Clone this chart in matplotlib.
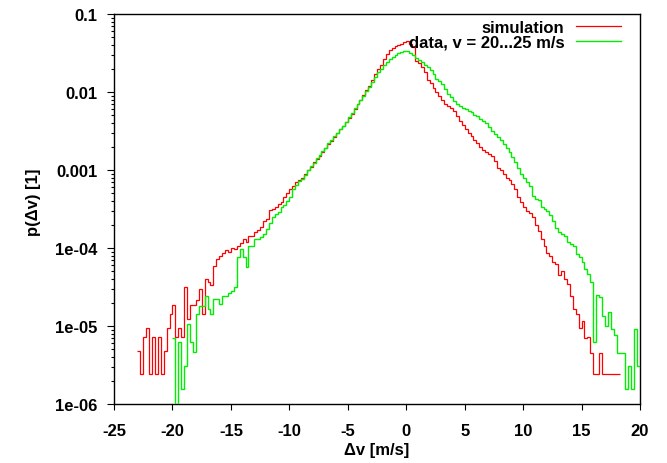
import numpy as np
import matplotlib
matplotlib.use("Agg")
import matplotlib.pyplot as plt
from matplotlib.ticker import FixedLocator, FixedFormatter, LogLocator, NullFormatter

plt.rcParams['font.family'] = ['Liberation Sans', 'DejaVu Sans']
plt.rcParams['font.weight'] = 'bold'

# ---- data: step histograms, log10 of p(dv) per 0.25 m/s bin ----
bin_width = 0.25
sim_start = -23.0
sim_log10p = [
    -5.32, -5.62, -5.14, -5.03, -5.62, -5.14, -5.62, -5.14, -5.62, -5.32,
    -5.03, -4.85, -4.73, -5.14, -5.03, -5.14, -4.50, -4.91, -4.73, -4.73,
    -4.67, -4.53, -4.85, -4.40, -4.44, -4.48, -4.23, -4.14, -4.10, -4.07,
    -4.03, -4.05, -4.00, -4.01, -3.97, -3.94, -3.88, -3.92, -3.85, -3.84,
    -3.80, -3.77, -3.73, -3.66, -3.63, -3.51, -3.50, -3.47, -3.43, -3.41,
    -3.34, -3.29, -3.25, -3.20, -3.16, -3.13,
    -3.10, -3.05, -3.00, -2.96, -2.90, -2.86, -2.82, -2.77, -2.72, -2.67,
    -2.63, -2.58, -2.53, -2.48, -2.43, -2.38, -2.33, -2.28, -2.22, -2.16,
    -2.10, -2.04, -1.98, -1.92, -1.84, -1.77, -1.71, -1.65, -1.58, -1.51,
    -1.46, -1.43, -1.41, -1.40, -1.38, -1.36, -1.34, -1.38, -1.42, -1.60,
    -1.63, -1.68, -1.74, -1.84, -1.89, -1.95, -2.00, -2.05,
    -2.10, -2.15, -2.18, -2.21, -2.25, -2.31, -2.37, -2.42, -2.47, -2.52,
    -2.57, -2.62, -2.66, -2.71, -2.74, -2.77, -2.79, -2.82, -2.88, -2.97,
    -3.00, -3.05, -3.10, -3.13,
    -3.18, -3.25, -3.35, -3.41, -3.48, -3.52, -3.55, -3.60, -3.70, -3.78,
    -3.88, -3.97,
    -4.06, -4.10, -4.18, -4.20, -4.35, -4.30, -4.40, -4.46, -4.61, -4.78,
    -4.85, -5.02, -4.93, -5.15, -5.14, -5.34,
    -5.62, -5.62, -5.34, -5.62, -5.62, -5.62, -5.62, -5.62, -5.62,
]

data_start = -20.0
NEG_INF = float('-inf')   # empty bin
data_log10p = [
    -5.15, NEG_INF, -5.21, -5.81, -5.51, -4.97, -5.21, -5.33, -4.85, -4.74,
    -4.74, -4.61, -4.78, -4.85, -4.65, -4.65, -4.72, -4.61, -4.61, -4.58,
    -4.55, -4.50, -4.12, -4.01, -4.12, -4.24, -3.97, -3.97, -3.88, -3.88,
    -3.86, -3.82, -3.76, -3.68, -3.60, -3.56, -3.54, -3.47, -3.45, -3.40,
    -3.35, -3.24, -3.19, -3.14,
    -3.11, -3.06, -3.00, -2.95, -2.91, -2.85, -2.81, -2.76, -2.72, -2.66,
    -2.62, -2.57, -2.53, -2.47, -2.43, -2.38, -2.32, -2.27, -2.21, -2.16,
    -2.10, -2.05, -1.99, -1.93, -1.87, -1.81, -1.75, -1.70, -1.65, -1.61,
    -1.58, -1.55, -1.52, -1.50, -1.49, -1.48, -1.48, -1.50, -1.53, -1.56,
    -1.59, -1.62, -1.65, -1.68, -1.72, -1.77, -1.83, -1.86,
    -1.90, -1.96, -2.02, -2.07, -2.11, -2.15, -2.18, -2.20, -2.22, -2.24,
    -2.26, -2.29, -2.31, -2.34, -2.37, -2.40, -2.45, -2.50, -2.54, -2.58,
    -2.62, -2.67, -2.72, -2.77,
    -2.83, -2.90, -2.98, -3.05, -3.10, -3.16, -3.20, -3.33, -3.37, -3.39,
    -3.47, -3.50,
    -3.52, -3.58, -3.66, -3.75, -3.80, -3.82, -3.84, -3.92, -3.95, -3.98,
    -4.08, -4.12, -4.18, -4.27, -4.33, -4.44,
    -5.20, -4.60, -4.63, -4.87, -5.00, -4.82, -5.04, -5.12, -5.34, -5.34,
    -5.34, -5.81, -5.51, -5.81, -5.04, -5.51,
]

series_labels = ["simulation", "data, v = 20...25 m/s"]
x_ticks = [-25, -20, -15, -10, -5, 0, 5, 10, 15, 20]
y_ticks = [1e-6, 1e-5, 1e-4, 1e-3, 1e-2, 1e-1]
y_tick_labels = ["1e-06", "1e-05", "1e-04", "0.001", "0.01", "0.1"]

# ---- figure ----
W, H = 667, 464
fig = plt.figure(figsize=(W / 100, H / 100), dpi=100)
ax = fig.add_axes([114 / W, 1 - 405 / H, (640 - 114) / W, (405 - 15) / H])

sim_vals = 10.0 ** np.array(sim_log10p)
sim_edges = sim_start + bin_width * np.arange(len(sim_vals) + 1)
data_vals = 10.0 ** np.array(data_log10p)
data_edges = data_start + bin_width * np.arange(len(data_vals) + 1)

ax.set_yscale('log', nonpositive='clip')
ax.stairs(sim_vals, sim_edges, baseline=None, color='#ff0000', lw=0.9,
          label=series_labels[0], zorder=2)
ax.stairs(data_vals, data_edges, baseline=None, color='#00ee00', lw=1.0,
          label=series_labels[1], zorder=3)

ax.set_xlim(-25, 20)
ax.set_ylim(1e-6, 0.1)

ax.xaxis.set_major_locator(FixedLocator(x_ticks))
ax.set_xticklabels([str(t) for t in x_ticks])
ax.yaxis.set_major_locator(FixedLocator(y_ticks))
ax.yaxis.set_major_formatter(FixedFormatter(y_tick_labels))
ax.yaxis.set_minor_locator(LogLocator(base=10, subs=np.arange(2, 10), numticks=20))
ax.yaxis.set_minor_formatter(NullFormatter())

for s in ax.spines.values():
    s.set_linewidth(1.0)
    s.set_color('black')

ax.tick_params(axis='both', which='both', direction='out', top=False, right=False,
               width=0.8, colors='black', labelsize=12)
ax.tick_params(axis='y', which='major', length=5, pad=7)
ax.tick_params(axis='y', which='minor', length=2.5)
ax.tick_params(axis='x', which='major', length=4, pad=10)
for lab in ax.get_xticklabels() + ax.get_yticklabels():
    lab.set_fontweight('bold')

fig.text(377 / W, 1 - 451 / H, "Δv [m/s]", ha='center', va='center',
         fontsize=12, fontweight='bold')
fig.text(33.5 / W, 1 - 202 / H, "p(Δv) [1]", ha='center', va='center',
         rotation=90, fontsize=12, fontweight='bold')

leg = ax.legend(loc='upper right', bbox_to_anchor=(621 / W, 1 - 21 / H),
                bbox_transform=fig.transFigure, frameon=False, markerfirst=False,
                handlelength=2.7, handletextpad=0.7, labelspacing=0.0,
                borderaxespad=0, borderpad=0,
                prop={'weight': 'bold', 'size': 12})

fig.savefig("out.png", dpi=100)
